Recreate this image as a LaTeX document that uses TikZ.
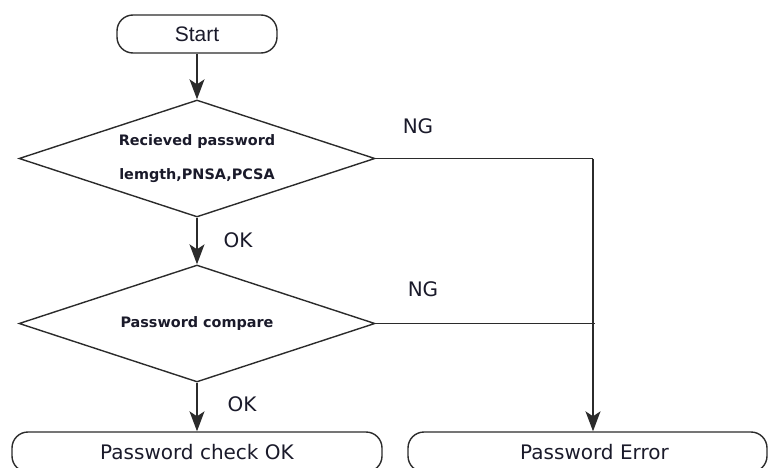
\documentclass[tikz,border=0pt]{standalone}
\usepackage{fontspec}
\setmainfont{DejaVu Sans}
\newfontfamily\arialfont{Liberation Sans}
\usetikzlibrary{shapes.geometric,arrows.meta}
\definecolor{linec}{HTML}{2B2B2B}
\definecolor{textc}{HTML}{1A1A2A}
\tikzset{
  x=1pt,y=-1pt,
  every node/.style={text=textc},
  conn/.style={draw=linec,line width=1.4pt},
  arr/.style={conn,-{Stealth[length=20pt,width=15pt,inset=5pt]}},
  termbox/.style={draw=linec,line width=1.4pt,rectangle,rounded corners=16pt,inner sep=0pt},
  decbox/.style={draw=linec,line width=1.4pt,diamond,aspect=3.04,inner sep=0pt,minimum width=356pt,minimum height=117pt,font=\fontsize{14.4}{34}\selectfont\bfseries,align=center},
  lbl/.style={font=\fontsize{20}{24}\selectfont,inner sep=0pt},
}
\begin{document}
\begin{tikzpicture}
\useasboundingbox (0,0) rectangle (768,468);
\clip (0,0) rectangle (768,468);
\node[termbox,minimum width=160pt,minimum height=38pt,font=\arialfont\fontsize{21}{24}\selectfont] (start) at (197,34) {Start};
\node[decbox] (d1) at (197,158.5) {Recieved password\\lemgth,PNSA,PCSA};
\node[decbox] (d2) at (197,323.5) {Password compare};
\node[termbox,minimum width=370pt,minimum height=40pt,font=\fontsize{20}{24}\selectfont] (ok) at (197,452) {Password check OK};
\node[termbox,minimum width=359pt,minimum height=40pt,font=\fontsize{20}{24}\selectfont] (err) at (587.5,452) {\hspace*{14pt}Password Error};
\coordinate (c1) at (593,158.5);
\coordinate (c2) at (595,323.5);
\draw[arr] (start.south) -- (d1.north);
\draw[arr] (d1.south) -- (d2.north);
\draw[arr] (d2.south) -- (ok.north);
\draw[conn] (d1.east) -- (c1);
\draw[arr] (c1) -- (c1 |- err.north);
\draw[conn] (d2.east) -- (c2);
\node[lbl] (ok1) at (238,240) {OK};
\node[lbl] (ok2) at (242,404) {OK};
\node[lbl] (ng1) at (418,126) {NG};
\node[lbl] (ng2) at (423,289) {NG};
\end{tikzpicture}
\end{document}
